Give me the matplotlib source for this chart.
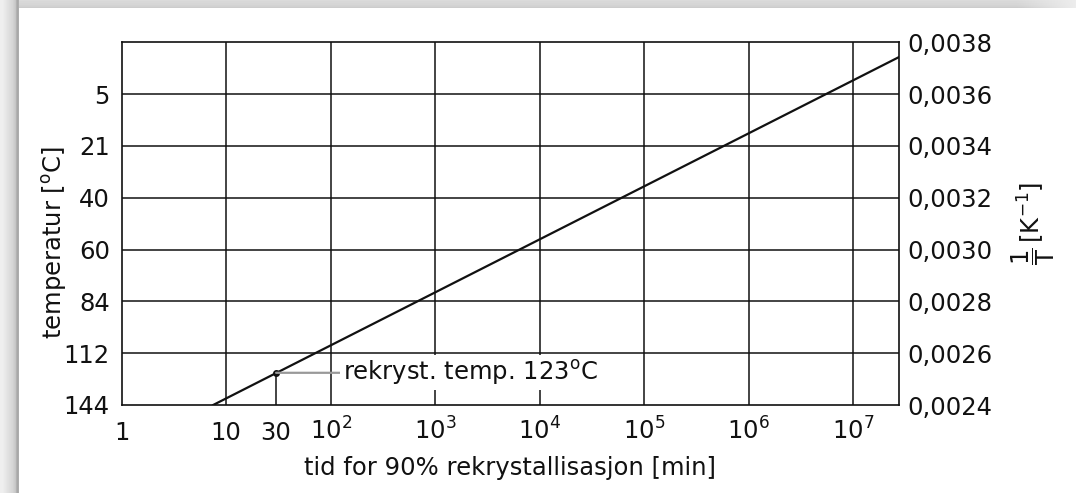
import numpy as np
import matplotlib
matplotlib.use("Agg")
import matplotlib.pyplot as plt

plt.rcParams["font.family"] = ["DejaVu Sans"]
plt.rcParams["mathtext.fontset"] = "dejavusans"

# Arrhenius line: time for 90 % recrystallisation vs. reciprocal temperature
t_line = [7.5, 2.74e7]              # min
inv_T_line = [0.0024, 0.003743]     # 1/K

# recrystallisation temperature point (30 min)
t_rex = 30
T_rex_C = 123
inv_T_rex = 1.0 / (T_rex_C + 273.15)

# axis ranges
t_min, t_max = 1, 2.74e7
inv_min, inv_max = 0.0024, 0.0038

# tick values and labels
x_ticks = [1, 10, 30, 1e2, 1e3, 1e4, 1e5, 1e6, 1e7]
x_labels = ["1", "10", "30", r"$10^{2}$", r"$10^{3}$", r"$10^{4}$",
            r"$10^{5}$", r"$10^{6}$", r"$10^{7}$"]
grid_x = [10, 1e2, 1e3, 1e4, 1e5, 1e6, 1e7]
inv_ticks = [0.0024, 0.0026, 0.0028, 0.0030, 0.0032, 0.0034, 0.0036, 0.0038]
temp_ticks = [0.0024, 0.0026, 0.0028, 0.0030, 0.0032, 0.0034, 0.0036]
temp_labels = ["144", "112", "84", "60", "40", "21", "5"]

W, H = 1076, 493
fig = plt.figure(figsize=(W / 100, H / 100), dpi=100)

# framed page background with a soft grey edge on the top and left
bg = np.ones((H, W, 3))
left_shades = [0.94, 0.94, 0.94, 0.93, 0.92, 0.91, 0.90, 0.89, 0.88, 0.87,
               0.86, 0.85, 0.84, 0.82, 0.80, 0.78, 0.70, 0.66, 0.68]
for i, s in enumerate(left_shades):
    bg[:, i, :] = s
top_shades = [0.86, 0.85, 0.85, 0.84, 0.84, 0.83, 0.82, 0.80]
for j, s in enumerate(top_shades):
    bg[j, 19:, :] = s
    bg[j, W - 60:, :] = np.linspace(s, 0.93, 60)[:, None]
bg_ax = fig.add_axes([0, 0, 1, 1], zorder=-1)
bg_ax.imshow(bg, aspect="auto", interpolation="nearest")
bg_ax.axis("off")

ax = fig.add_axes([121.7 / W, 1 - 405 / H, (899 - 121.7) / W, (405 - 42.3) / H])
ax.set_xscale("log")
ax.set_xlim(t_min, t_max)
ax.set_ylim(inv_min, inv_max)

fs = 17.5
ink = "#111111"

# grid
for gx in grid_x:
    ax.axvline(gx, color=ink, lw=1.1, zorder=1)
for gy in inv_ticks[1:-1]:
    ax.axhline(gy, color=ink, lw=1.1, zorder=6 if gy == 0.0026 else 1)

# Arrhenius line and the 30 min point
ax.plot(t_line, inv_T_line, color=ink, lw=1.6, zorder=3)
ax.vlines(t_rex, inv_min, inv_T_rex, color=ink, lw=1.1, zorder=2)
ax.plot([t_rex], [inv_T_rex], "o", color=ink, ms=4, zorder=4)
ax.annotate("rekryst. temp. 123$^{\\rm o}$C", xy=(t_rex, inv_T_rex),
            xytext=(48, 0), textcoords="offset points",
            ha="left", va="center", fontsize=fs, color=ink,
            bbox=dict(boxstyle="square,pad=0.12", fc="white", ec="none"),
            arrowprops=dict(arrowstyle="-", color="#999999", lw=1.6,
                            shrinkA=0, shrinkB=0),
            zorder=5)

for sp in ax.spines.values():
    sp.set_linewidth(1.2)
    sp.set_color(ink)

# bottom axis
ax.xaxis.set_minor_locator(matplotlib.ticker.NullLocator())
ax.set_xticks(x_ticks)
ax.set_xticklabels(x_labels, fontsize=fs, va="baseline", color=ink)
ax.tick_params(axis="x", length=0, pad=25)
ax.set_xlabel("tid for 90% rekrystallisasjon [min]", fontsize=fs, color=ink)
ax.xaxis.set_label_coords(0.5, -0.141)

# left axis: temperature in degrees Celsius
ax.set_yticks(temp_ticks)
ax.set_yticklabels(temp_labels, fontsize=fs, color=ink)
ax.tick_params(axis="y", length=0, pad=8.5)
ax.set_ylabel("temperatur [$^{\\rm o}$C]", fontsize=fs, color=ink)
ax.yaxis.set_label_coords(-0.087, 0.447)
ax.yaxis.label.set_va("center")

# right axis: reciprocal temperature
ax2 = ax.twinx()
ax2.set_ylim(inv_min, inv_max)
ax2.set_yticks(inv_ticks)
ax2.set_yticklabels([f"{v:.4f}".replace(".", ",") for v in inv_ticks],
                    fontsize=fs, color=ink)
ax2.tick_params(axis="y", length=0, pad=6)
for sp in ax2.spines.values():
    sp.set_visible(False)
ax2.set_ylabel(r"$\dfrac{1}{\mathrm{T}}\,[\mathrm{K}^{-1}]$", fontsize=fs,
               color=ink, rotation=90)
ax2.yaxis.set_label_coords(1.1725, 0.50)
ax2.yaxis.label.set_va("center")
ax2.yaxis.label.set_ha("center")

fig.savefig("out.png", dpi=100)
